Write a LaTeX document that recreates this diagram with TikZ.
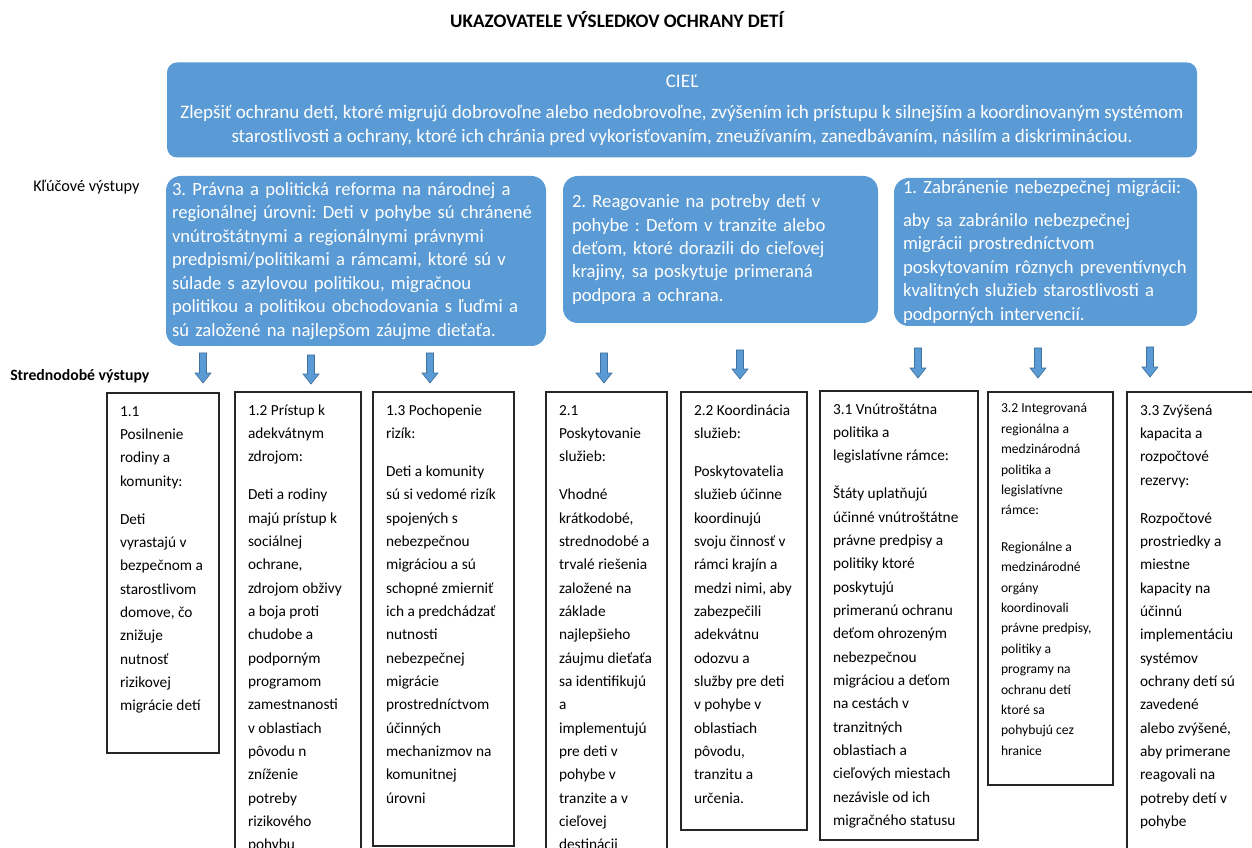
\documentclass[tikz,border=0pt]{standalone}
\usepackage{fontspec}
\setmainfont{Carlito}
\frenchspacing
\definecolor{cblue}{HTML}{5B9BD5}
\definecolor{cblueline}{HTML}{41719C}
\newcommand\cellbox[3]{\parbox[t][#1][t]{#2}{\strut #3}}
\begin{document}
\begin{tikzpicture}[x=0.75pt,y=-0.75pt,
  goalbox/.style={fill=cblue, rounded corners=7.5pt, text=white, align=center,
    minimum width=772.5pt, minimum height=71.25pt, inner sep=0pt,
    font=\fontsize{14.3}{18.2}\selectfont},
  keybox/.style={fill=cblue, rounded corners=11pt, text=white, align=left,
    inner ysep=0pt, font=\fontsize{14}{17.6}\selectfont},
  obox/.style={draw=black!85, line width=1.1pt, fill=white, anchor=north west,
    inner xsep=9.75pt, inner ysep=5pt, outer sep=0pt,
    font=\fontsize{11.5}{17.5}\selectfont},
  sidelabel/.style={anchor=west, inner sep=0pt},
  arr/.style={fill=cblue, draw=cblueline, line width=0.5pt, line join=miter}
]
\useasboundingbox (0,0) rectangle (1252,848);
\fill[white] (0,0) rectangle (1252,848);

\node[font=\fontsize{14.3}{17}\selectfont\bfseries] (title) at (617,20) {UKAZOVATELE VÝSLEDKOV OCHRANY DETÍ};

\node[goalbox] (goal) at (682,110) {CIEĽ\\[5pt]
Zlepšiť ochranu detí, ktoré migrujú dobrovoľne alebo nedobrovoľne, zvýšením ich prístupu k silnejším a koordinovaným systémom\\
starostlivosti a ochrany, ktoré ich chránia pred vykorisťovaním, zneužívaním, zanedbávaním, násilím a diskrimináciou.};

\node[sidelabel, font=\fontsize{12.2}{14}\selectfont] (klv) at (33,187) {Kľúčové výstupy};
\node[sidelabel, font=\fontsize{11.8}{14}\selectfont\bfseries] (sv) at (10,376) {Strednodobé výstupy};

\node[keybox, text width=276pt, inner xsep=4.5pt, minimum height=127.5pt] (k3) at (356,261) {3. Právna a politická reforma na národnej a\\
regionálnej úrovni: Deti v pohybe sú chránené\\
vnútroštátnymi a regionálnymi právnymi\\
predpismi/politikami a rámcami, ktoré sú v\\
súlade s azylovou politikou, migračnou\\
politikou a politikou obchodovania s ľuďmi a\\
sú založené na najlepšom záujme dieťaťa.};

\node[keybox, text width=222.75pt, inner xsep=6.75pt, minimum height=110.25pt] (k2) at (720.5,249.5) {2. Reagovanie na potreby detí v\\
pohybe : Deťom v tranzite alebo\\
deťom, ktoré dorazili do cieľovej\\
krajiny, sa poskytuje primeraná\\
podpora a ochrana.};

\node[keybox, text width=213.75pt, inner xsep=6.75pt, minimum height=111pt] (k1) at (1045.5,252) {1. Zabránenie nebezpečnej migrácii:\\[7pt]
aby sa zabránilo nebezpečnej\\
migrácii prostredníctvom\\
poskytovaním rôznych preventívnych\\
kvalitných služieb starostlivosti a\\
podporných intervencií.};

\foreach \x/\t/\b in {203/353/383, 311/355/384, 430/353/383, 604/353/383, 740/350/379, 918/348/378, 1038/348/378, 1150/347/377}
  \draw[arr] (\x-3.5,\t) -- (\x+3.5,\t) -- (\x+3.5,\b-10) -- (\x+8,\b-10) -- (\x,\b) -- (\x-8,\b-10) -- (\x-3.5,\b-10) -- cycle;

\node[obox] (b11) at (107,393) {\cellbox{260pt}{64.5pt}{1.1\\Posilnenie\\rodiny a\\komunity:\\[11pt]Deti\\vyrastajú v\\bezpečnom a\\starostlivom\\domove, čo\\znižuje\\nutnosť\\rizikovej\\migrácie detí}};

\node[obox] (b12) at (235,392) {\cellbox{371pt}{75pt}{1.2 Prístup k\\adekvátnym\\zdrojom:\\[11pt]Deti a rodiny\\majú prístup k\\sociálnej\\ochrane,\\zdrojom obživy\\a boja proti\\chudobe a\\podporným\\programom\\zamestnanosti\\v oblastiach\\pôvodu n\\zníženie\\potreby\\rizikového\\pohybu}};

\node[obox] (b13) at (373,392) {\cellbox{330.5pt}{86.25pt}{1.3 Pochopenie\\rizík:\\[11pt]Deti a komunity\\sú si vedomé rizík\\spojených s\\nebezpečnou\\migráciou a sú\\schopné zmierniť\\ich a predchádzať\\nutnosti\\nebezpečnej\\migrácie\\prostredníctvom\\účinných\\mechanizmov na\\komunitnej\\úrovni}};

\node[obox] (b21) at (546,392) {\cellbox{371pt}{71.25pt}{2.1\\Poskytovanie\\služieb:\\[11pt]Vhodné\\krátkodobé,\\strednodobé a\\trvalé riešenia\\založené na\\základe\\najlepšieho\\záujmu dieťaťa\\sa identifikujú\\a\\implementujú\\pre deti v\\pohybe v\\tranzite a v\\cieľovej\\destinácii}};

\node[obox] (b22) at (681,392) {\cellbox{318.5pt}{75pt}{2.2 Koordinácia\\služieb:\\[11pt]Poskytovatelia\\služieb účinne\\koordinujú\\svoju činnosť v\\rámci krajín a\\medzi nimi, aby\\zabezpečili\\adekvátnu\\odozvu a\\služby pre deti\\v pohybe v\\oblastiach\\pôvodu,\\tranzitu a\\určenia.}};

\node[obox] (b31) at (820,391) {\cellbox{326.75pt}{99pt}{3.1 Vnútroštátna\\politika a\\legislatívne rámce:\\[11pt]Štáty uplatňujú\\účinné vnútroštátne\\právne predpisy a\\politiky ktoré\\poskytujú\\primeranú ochranu\\deťom ohrozeným\\nebezpečnou\\migráciou a deťom\\na cestách v\\tranzitných\\oblastiach a\\cieľových miestach\\nezávisle od ich\\migračného statusu}};

\node[obox, font=\fontsize{10.2}{15.3}\selectfont] (b32) at (988,392) {\cellbox{284.75pt}{74.25pt}{3.2 Integrovaná\\regionálna a\\medzinárodná\\politika a\\legislatívne\\rámce:\\[12pt]Regionálne a\\medzinárodné\\orgány\\koordinovali\\právne predpisy,\\politiky a\\programy na\\ochranu detí\\ktoré sa\\pohybujú cez\\hranice}};

\node[obox] (b33) at (1127,392) {\cellbox{371pt}{87.75pt}{3.3 Zvýšená\\kapacita a\\rozpočtové\\rezervy:\\[11pt]Rozpočtové\\prostriedky a\\miestne\\kapacity na\\účinnú\\implementáciu\\systémov\\ochrany detí sú\\zavedené\\alebo zvýšené,\\aby primerane\\reagovali na\\potreby detí v\\pohybe}};
\end{tikzpicture}
\end{document}
